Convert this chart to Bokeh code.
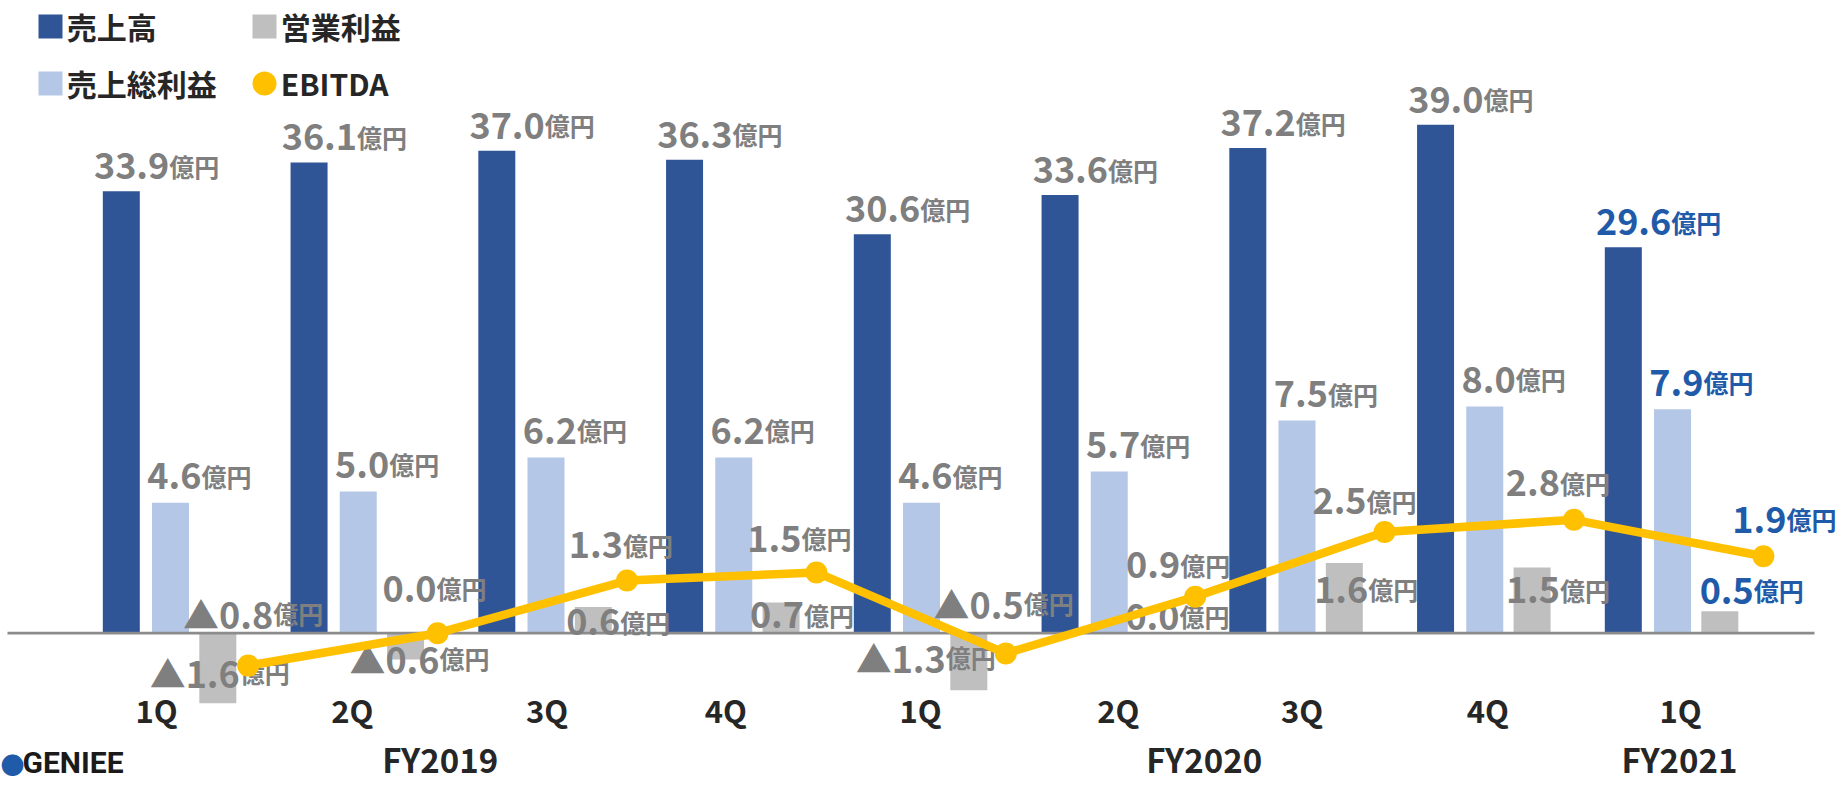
from bokeh.plotting import figure
from bokeh.models import Range1d, Legend, LegendItem, ColumnDataSource, Label
from bokeh.core.properties import value
from bokeh.embed import file_html
from bokeh.resources import INLINE

# ---- data (億円) ----
quarters = ["1Q", "2Q", "3Q", "4Q", "1Q", "2Q", "3Q", "4Q", "1Q"]
fiscal_years = ["FY2019", "FY2019", "FY2019", "FY2019",
                "FY2020", "FY2020", "FY2020", "FY2020", "FY2021"]
sales = [33.9, 36.1, 37.0, 36.3, 30.6, 33.6, 37.2, 39.0, 29.6]
gross_profit = [4.6, 5.0, 6.2, 6.2, 4.6, 5.7, 7.5, 8.0, 7.9]
operating_profit = [-1.6, -0.6, 0.6, 0.7, -1.3, 0.0, 1.6, 1.5, 0.5]
ebitda = [-0.8, 0.0, 1.3, 1.5, -0.5, 0.9, 2.5, 2.8, 1.9]
unit = "億円"

# ---- label placement (pixels, relative to the anchor point) ----
op_label_dx = [22, 34, 27, 23, -23, 23, 24, 28, 34]
op_label_dy = [-17, 13, 29, 26, -19, -3, 40, 36, -7]
ebitda_label_dx = [25, -1, -4, -15, 18, -15, -18, -14, 23]
ebitda_label_dy = [-39, -31, -22, -20, -36, -18, -17, -23, -23]
quarter_label_dx = [-14, -6, 1, -8, -1, 9, 5, 3, 8]
year_label_dx = [-12, 1, 7]

# ---- layout / style ----
W, H = 1841, 786
AXIS_L, AXIS_R = 7, 1814          # extent of the zero line
ZERO_Y = 632.7                    # screen y of the zero line
CAT0, CAT_PITCH = 170.0, 187.75   # bar groups
LINE0, LINE_PITCH = 247.7, 189.4  # EBITDA markers
PX_SALES, PX_GROSS, PX_OP, PX_EBITDA = 13.04, 28.35, 43.8, 40.5
BAR_W = 37 / CAT_PITCH
SALES_SHIFT, OP_SHIFT = -0.262, 0.252
TEXT_SHIFT = -14                  # baseline correction for the label font

NAVY = "#2F5597"
LIGHT = "#B4C7E7"
GREY_BAR = "#BFBFBF"
GOLD = "#FFC000"
LABEL_GREY = "#7F7F7F"
LABEL_BLUE = "#1F5BA8"
DARK = "#262626"
FONT = "Noto Sans CJK JP"


def y_range(px_per_unit):
    return Range1d(-(H - ZERO_Y) / px_per_unit, ZERO_Y / px_per_unit)


def x_range(first_center, pitch):
    start = -first_center / pitch
    return Range1d(start, start + W / pitch)


def fmt(v):
    return ("▲%.1f" % abs(v)) if v < 0 else ("%.1f" % v)


n = len(quarters)
idx = list(range(n))
label_colors = [LABEL_BLUE if i == n - 1 else LABEL_GREY for i in idx]

src = ColumnDataSource(dict(
    idx=idx,
    sales_x=[i + SALES_SHIFT for i in idx],
    op_x=[i + OP_SHIFT for i in idx],
    sales=sales, gross=gross_profit, op=operating_profit, ebitda=ebitda,
    sales_txt=[fmt(v) for v in sales],
    gross_txt=[fmt(v) for v in gross_profit],
    op_txt=[fmt(v) for v in operating_profit],
    ebitda_txt=[fmt(v) for v in ebitda],
    unit=[unit] * n,
    color=label_colors,
    op_dx=op_label_dx, op_dy=[d + TEXT_SHIFT for d in op_label_dy],
    eb_dx=ebitda_label_dx, eb_dy=[d + TEXT_SHIFT for d in ebitda_label_dy],
    quarter=quarters, q_dx=quarter_label_dx,
))

p = figure(width=W, height=H,
           x_range=x_range(CAT0, CAT_PITCH), y_range=y_range(PX_SALES),
           x_axis_location=None, y_axis_location=None,
           toolbar_location=None, output_backend="svg",
           min_border_left=0, min_border_right=0,
           min_border_top=0, min_border_bottom=0,
           outline_line_color=None, background_fill_color="white")
p.xgrid.grid_line_color = None
p.ygrid.grid_line_color = None
p.extra_x_ranges = {"line": x_range(LINE0, LINE_PITCH)}
p.extra_y_ranges = {"gross": y_range(PX_GROSS), "op": y_range(PX_OP),
                    "ebitda": y_range(PX_EBITDA)}

# ---- bars ----
r_sales = p.vbar(x="sales_x", top="sales", width=BAR_W, source=src,
                 fill_color=NAVY, line_color=None)
r_gross = p.vbar(x="idx", top="gross", width=BAR_W, source=src,
                 y_range_name="gross", fill_color=LIGHT, line_color=None)
r_op = p.vbar(x="op_x", top="op", width=BAR_W, source=src,
              y_range_name="op", fill_color=GREY_BAR, line_color=None)

# zero line
xr = p.x_range
p.segment(x0=[xr.start + AXIS_L / CAT_PITCH], x1=[xr.start + AXIS_R / CAT_PITCH],
          y0=[0], y1=[0], line_color="#8C8C8C", line_width=2.7)


def value_labels(x, y, txt, dx, dy, y_range_name="default", x_range_name="default"):
    common = dict(source=src, y_range_name=y_range_name, x_range_name=x_range_name,
                  text_color="color", text_baseline="alphabetic",
                  x_offset=dx, y_offset=dy, text_font=value(FONT),
                  text_font_style="bold")
    p.text(x=x, y=y, text=txt, text_align="right", text_font_size="36px", **common)
    p.text(x=x, y=y, text="unit", text_align="left", text_font_size="25px", **common)


value_labels("sales_x", "sales", "sales_txt", 48, -11.5 + TEXT_SHIFT)
value_labels("idx", "gross", "gross_txt", 31, -13 + TEXT_SHIFT, y_range_name="gross")
value_labels("op_x", "op", "op_txt", "op_dx", "op_dy", y_range_name="op")

# ---- EBITDA line ----
p.line(x="idx", y="ebitda", source=src, x_range_name="line", y_range_name="ebitda",
       line_color=GOLD, line_width=8.5)
r_eb = p.ellipse(x="idx", y="ebitda", source=src, x_range_name="line",
                 y_range_name="ebitda", width=22, height=22,
                 width_units="screen", height_units="screen",
                 fill_color=GOLD, line_color=None)
value_labels("idx", "ebitda", "ebitda_txt", "eb_dx", "eb_dy",
             y_range_name="ebitda", x_range_name="line")

# ---- category labels ----
p.text(x="idx", y=0, text="quarter", source=src, x_offset="q_dx",
       y_offset=90.6 + TEXT_SHIFT,
       text_align="center", text_baseline="alphabetic",
       text_font=value(FONT), text_font_style="bold",
       text_font_size="31px", text_color=DARK)

years = list(dict.fromkeys(fiscal_years))
year_x = [sum(i for i in idx if fiscal_years[i] == fy) /
          sum(1 for i in idx if fiscal_years[i] == fy) for fy in years]
p.text(x=year_x, y=[0] * len(years), text=years, x_offset=year_label_dx,
       y_offset=140 + TEXT_SHIFT,
       text_align="center", text_baseline="alphabetic",
       text_font=value(FONT), text_font_style="bold",
       text_font_size="33px", text_color=DARK)

# ---- legend ----
legend = Legend(items=[
    LegendItem(label="売上高", renderers=[r_sales]),
    LegendItem(label="営業利益", renderers=[r_op]),
    LegendItem(label="売上総利益", renderers=[r_gross]),
    LegendItem(label="EBITDA", renderers=[r_eb]),
], orientation="horizontal", ncols=2, location=(34.7, 681),
    glyph_width=30, glyph_height=30, label_standoff=2,
    label_width=169, label_height=44, spacing=13,
    padding=0, margin=0, border_line_color=None, background_fill_alpha=0,
    label_text_font=FONT, label_text_font_style="bold",
    label_text_font_size="30px", label_text_color=DARK)
p.add_layout(legend)

# ---- company mark ----
p.add_layout(Label(x=0, y=6, x_units="screen", y_units="screen", text="●",
                   text_font=FONT, text_font_size="24px", text_color="#1F5BA8"))
p.add_layout(Label(x=22, y=7, x_units="screen", y_units="screen", text="GENIEE",
                   text_font="Roboto", text_font_style="bold",
                   text_font_size="30px", text_color="#1A1A1A"))

open("out.html", "w").write(file_html(p, INLINE))
